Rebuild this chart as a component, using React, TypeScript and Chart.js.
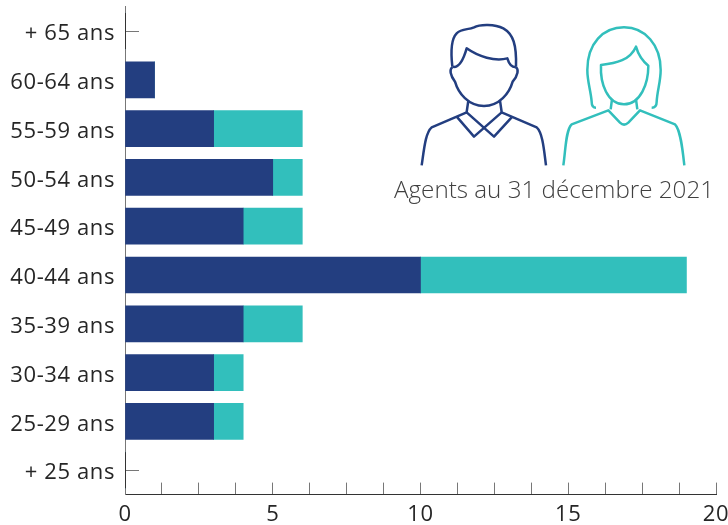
import React, { useEffect, useRef } from "react";
import { Chart, registerables } from "chart.js";

Chart.register(...registerables);

const categories = ["+ 65 ans", "60-64 ans", "55-59 ans", "50-54 ans", "45-49 ans", "40-44 ans", "35-39 ans", "30-34 ans", "25-29 ans", "+ 25 ans"];
const hommes = [0, 1, 3, 5, 4, 10, 4, 3, 3, 0];
const femmes = [0, 0, 3, 1, 2, 9, 2, 1, 1, 0];
const caption = "Agents au 31 décembre 2021";

const NAVY = "#233e80";
const TEAL = "#32bfbc";
const FONT = '"Open Sans", sans-serif';

const manPaths = [
  "M157 170 C152 125 155 85 170 70 C185 55 205 60 222 52 C240 42 285 42 310 55 C340 72 350 105 348 170",
  "M157 170 C175 175 190 150 200 115 C235 140 285 155 322 145 C328 165 335 170 348 172",
  "M157 172 C148 178 150 195 165 215 C175 250 205 288 252 288 C298 288 328 250 338 215 C355 195 356 178 348 172",
  "M205 272 L200 306 M300 272 L305 306",
  "M65 466 C72 420 76 368 95 352 L200 307 L282 380 L335 322",
  "M438 466 C432 420 428 368 410 352 L305 307 L222 380 L170 320",
];
const womanPaths = [
  "M588 293 C578 293 575 285 575 275 C572 240 562 215 562 180 C562 100 610 52 672 52 C735 52 782 105 782 180 C782 215 772 240 770 275 C770 285 766 293 755 293",
  "M603 165 C650 160 690 150 708 110 C715 135 730 155 745 167 C745 220 722 283 672 283 C622 283 600 220 603 165 Z",
  "M636 268 L632 298 M708 268 L712 298",
  "M490 466 C497 420 497 360 515 343 L625 301 L660 338 Q672 350 685 338 L720 301 L825 343 C842 360 848 420 853 466",
];

const spacing = {
  id: "spacing",
  beforeDraw(chart: any) {
    chart.ctx.letterSpacing = "0.6px";
  },
};

const decor = {
  id: "decor",
  afterDraw(chart: any) {
    const ctx = chart.ctx;
    ctx.save();
    ctx.letterSpacing = "0px";
    const yScale = chart.scales.y;
    const xZero = Math.round(chart.scales.x.getPixelForValue(0)) + 0.5;
    ctx.strokeStyle = "#333333";
    ctx.lineWidth = 1;
    categories.forEach((_, i) => {
      if (hommes[i] + femmes[i] === 0) {
        const c = yScale.getPixelForValue(i);
        ctx.beginPath();
        ctx.moveTo(xZero, c - 18);
        ctx.lineTo(xZero, c + 18);
        ctx.stroke();
      }
    });
    ctx.save();
    ctx.translate(400, 10);
    ctx.scale(1 / 3, 1 / 3);
    ctx.lineWidth = 7.5;
    ctx.lineJoin = "round";
    ctx.strokeStyle = NAVY;
    manPaths.forEach((d) => ctx.stroke(new Path2D(d)));
    ctx.strokeStyle = TEAL;
    womanPaths.forEach((d) => ctx.stroke(new Path2D(d)));
    ctx.restore();
    ctx.font = `300 24.2px ${FONT}`;
    ctx.fillStyle = "#404040";
    ctx.textAlign = "left";
    ctx.textBaseline = "alphabetic";
    ctx.fillText(caption, 394, 198);
    ctx.restore();
  },
};

export default function App() {
  const ref = useRef<HTMLCanvasElement>(null);
  useEffect(() => {
    document.body.style.margin = "0";
    const chart = new Chart(ref.current!, {
      type: "bar",
      data: {
        labels: categories,
        datasets: [
          { label: "Hommes", data: hommes, backgroundColor: NAVY, barThickness: 36 },
          { label: "Femmes", data: femmes, backgroundColor: TEAL, barThickness: 36 },
        ],
      },
      options: {
        indexAxis: "y",
        responsive: false,
        animation: false,
        layout: { padding: { top: 6.6, right: 12, left: 0, bottom: 0 } },
        plugins: { legend: { display: false }, tooltip: { enabled: false } },
        scales: {
          x: {
            stacked: true,
            min: 0,
            max: 20,
            afterFit: (s: any) => { s.height = 30.4; s.paddingLeft = 0; s.paddingRight = 0; },
            border: { color: "#333333", width: 1 },
            grid: { drawOnChartArea: false, tickLength: -12, color: "#777777", tickColor: "#777777" },
            ticks: {
              stepSize: 1.25,
              autoSkip: false,
              maxRotation: 0,
              padding: 19,
              color: "#262626",
              font: { family: FONT, size: 22 },
              callback: (v: any) => (Number(v) % 5 === 0 ? String(v) : ""),
            },
          },
          y: {
            stacked: true,
            afterFit: (s: any) => { s.width = 125; s.paddingTop = 0; s.paddingBottom = 0; },
            border: { color: "#777777", width: 1 },
            grid: { offset: false, drawOnChartArea: false, tickLength: -14, color: "#777777", tickColor: "#777777" },
            ticks: {
              autoSkip: false,
              padding: 24,
              labelOffset: 3,
              color: "#262626",
              font: { family: FONT, size: 22 },
            },
          },
        },
      },
      plugins: [spacing, decor],
    } as any);
    return () => chart.destroy();
  }, []);
  return <canvas ref={ref} width={728} height={525} style={{ display: "block" }} />;
}
